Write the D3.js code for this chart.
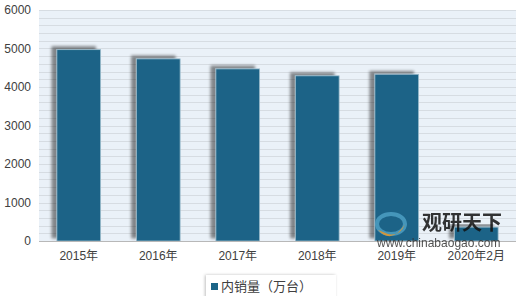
<!DOCTYPE html>
<html>
<head>
<meta charset="utf-8">
<script src="https://cdn.jsdelivr.net/npm/d3@7"></script>
<style>
  body { margin: 0; background: #fff; }
  svg { display: block; }
</style>
</head>
<body>
<div id="chart"></div>
<script>
var years = ['2015年', '2016年', '2017年', '2018年', '2019年', '2020年2月'];
var sales = [4970, 4730, 4470, 4290, 4330, 360];
var yTicks = [0, 1000, 2000, 3000, 4000, 5000, 6000];
var seriesName = '内销量（万台）';

var width = 520, height = 296;
var plot = {left: 39, right: 516, top: 10, bottom: 241};
var font = '"Liberation Sans", "Noto Sans CJK SC", sans-serif';

var svg = d3.select('#chart').append('svg')
    .attr('width', width)
    .attr('height', height);

var defs = svg.append('defs');

// shadow behind bars, pushed up and to the left
var shadow = defs.append('filter')
    .attr('id', 'barShadow')
    .attr('x', '-40%').attr('y', '-20%')
    .attr('width', '180%').attr('height', '140%');
shadow.append('feGaussianBlur')
    .attr('in', 'SourceAlpha')
    .attr('stdDeviation', 1.8)
    .attr('result', 'blur');
shadow.append('feOffset')
    .attr('in', 'blur')
    .attr('dx', -5).attr('dy', -3)
    .attr('result', 'off');
shadow.append('feComponentTransfer')
    .attr('in', 'off')
    .attr('result', 'shade')
  .append('feFuncA')
    .attr('type', 'linear')
    .attr('slope', 0.45);
var merge = shadow.append('feMerge');
merge.append('feMergeNode').attr('in', 'shade');
merge.append('feMergeNode').attr('in', 'SourceGraphic');

var legendShadow = defs.append('filter')
    .attr('id', 'legendShadow')
    .attr('x', '-20%').attr('y', '-40%')
    .attr('width', '140%').attr('height', '180%');
legendShadow.append('feDropShadow')
    .attr('dx', -1).attr('dy', 0)
    .attr('stdDeviation', 1.5)
    .attr('flood-color', '#000')
    .attr('flood-opacity', 0.25);

var x = d3.scaleBand()
    .domain(years)
    .range([plot.left, plot.right])
    .paddingInner(0.45)
    .paddingOuter(0.225);

var y = d3.scaleLinear()
    .domain([0, 6000])
    .range([plot.bottom, plot.top]);

// plot background
svg.append('rect')
    .attr('x', plot.left)
    .attr('y', plot.top)
    .attr('width', plot.right - plot.left)
    .attr('height', plot.bottom - plot.top)
    .attr('fill', '#eaf1f8');

// minor grid every 200
svg.append('g')
    .attr('class', 'grid')
  .selectAll('line')
    .data(d3.range(200, 6001, 200))
  .enter().append('line')
    .attr('x1', plot.left)
    .attr('x2', plot.right)
    .attr('y1', function(d) { return Math.round(y(d)) + 0.5; })
    .attr('y2', function(d) { return Math.round(y(d)) + 0.5; })
    .attr('stroke', '#d6dce2')
    .attr('stroke-width', 1);

// bars
svg.append('g')
    .attr('class', 'bars')
  .selectAll('rect')
    .data(sales)
  .enter().append('rect')
    .attr('x', function(d, i) { return x(years[i]); })
    .attr('y', function(d) { return y(d); })
    .attr('width', x.bandwidth())
    .attr('height', function(d) { return y(0) - y(d); })
    .attr('fill', '#1b6487')
    .attr('stroke', '#9dbccc')
    .attr('stroke-width', 0.8)
    .attr('filter', 'url(#barShadow)');

// x axis
var xAxis = d3.axisBottom(x).tickSize(0).tickPadding(10);
var gx = svg.append('g')
    .attr('transform', 'translate(0,' + plot.bottom + ')')
    .call(xAxis);
gx.select('.domain')
    .attr('stroke', '#b8b8b8')
    .attr('d', 'M' + plot.left + ',0.5H' + plot.right);
gx.selectAll('text')
    .attr('font-family', font)
    .attr('font-size', 12)
    .attr('fill', '#404040');

// y axis
var yAxis = d3.axisLeft(y).tickValues(yTicks).tickSize(0).tickPadding(8).tickFormat(d3.format('d'));
var gy = svg.append('g')
    .attr('transform', 'translate(' + plot.left + ',0)')
    .call(yAxis);
gy.select('.domain').remove();
gy.selectAll('text')
    .attr('font-family', font)
    .attr('font-size', 12)
    .attr('fill', '#404040');

// watermark
var wm = svg.append('g')
    .attr('class', 'watermark')
    .attr('opacity', 0.85);
wm.append('ellipse')
    .attr('cx', 391).attr('cy', 224)
    .attr('rx', 14).attr('ry', 10)
    .attr('fill', 'none')
    .attr('stroke', '#4d9fc4')
    .attr('stroke-width', 4);
wm.append('path')
    .attr('d', 'M378,230 Q392,245 405,224 Q400,237 388,234 Z')
    .attr('fill', '#f0a030');
wm.append('text')
    .attr('x', 422).attr('y', 230)
    .attr('font-family', '"Noto Sans CJK SC", sans-serif')
    .attr('font-weight', 'bold')
    .attr('font-size', 20)
    .attr('fill', '#111')
    .text('观研天下');
wm.append('text')
    .attr('x', 377).attr('y', 247)
    .attr('font-family', font)
    .attr('font-size', 12)
    .attr('fill', '#333')
    .text('www.chinabaogao.com');

// legend
var legend = svg.append('g')
    .attr('class', 'legend');
legend.append('rect')
    .attr('x', 206).attr('y', 275)
    .attr('width', 130).attr('height', 24)
    .attr('fill', '#fff')
    .attr('filter', 'url(#legendShadow)');
legend.append('rect')
    .attr('x', 211).attr('y', 283)
    .attr('width', 7).attr('height', 7)
    .attr('fill', '#1b6487');
legend.append('text')
    .attr('x', 221).attr('y', 291)
    .attr('font-family', '"Noto Sans CJK SC", sans-serif')
    .attr('font-size', 13)
    .attr('fill', '#404040')
    .text(seriesName);
</script>
</body>
</html>
